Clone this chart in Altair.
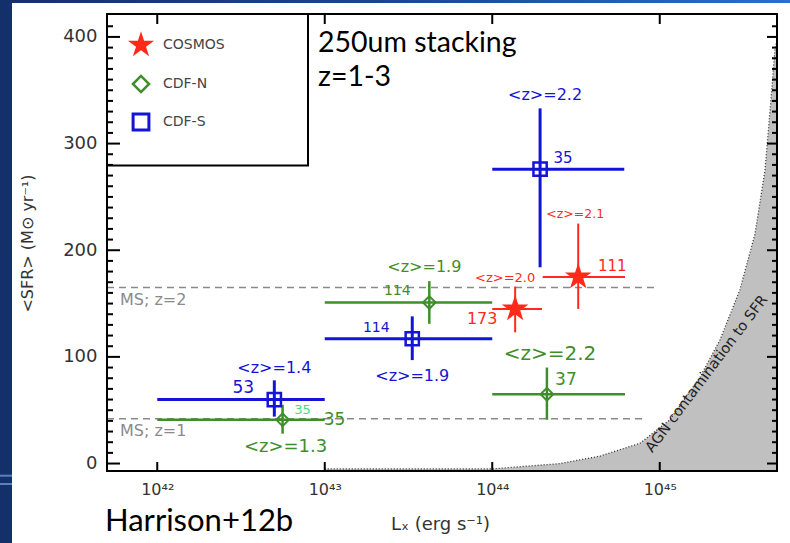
import altair as alt
import pandas as pd

# ---------------- data ----------------
SURVEYS = ["COSMOS", "CDF-N", "CDF-S"]
COLORS = ["#ff2a1a", "#3f8e2b", "#1414d6"]

# COSMOS stacks (red stars)
cosmos_lx = [1.37e44, 3.26e44]
cosmos_lx_lo = [1.0e44, 2.0e44]
cosmos_lx_hi = [1.98e44, 6.2e44]
cosmos_sfr = [145, 175]
cosmos_sfr_lo = [123, 145]
cosmos_sfr_hi = [166, 225]
cosmos_z = [2.0, 2.1]
cosmos_n = [173, 111]

# CDF-N stacks (green diamonds)
cdfn_lx = [5.6e42, 4.21e43, 2.12e44]
cdfn_lx_lo = [1e42, 1e43, 1e44]
cdfn_lx_hi = [1e43, 1e44, 6.2e44]
cdfn_sfr = [41, 151, 65]
cdfn_sfr_lo = [28, 131, 41]
cdfn_sfr_hi = [55, 171, 90]
cdfn_z = [1.3, 1.9, 2.2]
cdfn_n = [35, 114, 37]

# CDF-S stacks (blue squares)
cdfs_lx = [5.0e42, 3.33e43, 1.93e44]
cdfs_lx_lo = [1e42, 1e43, 1e44]
cdfs_lx_hi = [1e43, 1e44, 6.14e44]
cdfs_sfr = [60, 117, 276]
cdfs_sfr_lo = [44, 97, 184]
cdfs_sfr_hi = [78, 138, 333]
cdfs_z = [1.4, 1.9, 2.2]
cdfs_n = [53, 114, 35]

# main-sequence levels
ms_sfr = [165, 42]
ms_label = ["MS; z=2", "MS; z=1"]
ms_lx_end = [9.5e44, 8.1e44]

# boundary of the AGN-contaminated region
agn_lx = [1e43, 1.01e44, 2.54e44, 4.4e44, 7.62e44, 1.15e45, 1.74e45, 2.29e45,
          3.01e45, 3.7e45, 4.25e45, 4.61e45, 4.87e45, 5.01e45]
agn_sfr = [-5, -5, 0, 7, 19, 41, 81, 116, 163, 215, 275, 341, 388, 397]

# ---------------- layout ----------------
W, H = 670, 457
PAD = {"left": 107, "top": 14, "right": 13, "bottom": 72}
XMIN, XMAX = 10 ** 41.7, 10 ** 45.7
YMIN, YMAX = -7, 421.5
DEC_PX = W / 4.0
Y_PX = H / (YMAX - YMIN)
FONT = "DejaVu Sans"

# five-pointed star as a unit SVG path
STAR = ("M0,-1L0.2245,-0.309L0.9511,-0.309L0.3633,0.118L0.5878,0.809L0,0.382"
        "L-0.5878,0.809L-0.3633,0.118L-0.9511,-0.309L-0.2245,-0.309Z")

X_SCALE = alt.Scale(type="log", domain=[XMIN, XMAX], nice=False)
Y_SCALE = alt.Scale(domain=[YMIN, YMAX], nice=False, zero=False)

X_AXIS = alt.Axis(
    values=[1e42, 1e43, 1e44, 1e45],
    labelExpr=("round(log(datum.value)/LN10) == 42 ? '10⁴²' : "
               "round(log(datum.value)/LN10) == 43 ? '10⁴³' : "
               "round(log(datum.value)/LN10) == 44 ? '10⁴⁴' : '10⁴⁵'"),
    title="Lₓ (erg s⁻¹)", ticks=False, domain=False, grid=False, zindex=1,
    labelPadding=10, labelFontSize=16, labelColor="#333", labelFont=FONT,
    labelOverlap=False, labelFlush=False,
    titleX=W / 2 - 2, titleY=53, titleFontSize=18, titleFontWeight="normal",
    titleColor="#333", titleFont=FONT, titleBaseline="middle", titleAlign="center",
)
Y_AXIS = alt.Axis(
    values=[0, 100, 200, 300, 400], ticks=False, domain=False, grid=False, zindex=1,
    labelPadding=10, labelFontSize=18, labelColor="#333", labelFont=FONT,
    labelOverlap=False,
    title="<SFR> (M⊙ yr⁻¹)", titleX=-80, titleY=229, titleAngle=270,
    titleFontSize=16, titleFontWeight="normal", titleColor="#333",
    titleFont=FONT, titleBaseline="middle", titleAlign="center",
)

one = pd.DataFrame({"a": [0]})


def X(field):
    return alt.X(field, type="quantitative", scale=X_SCALE, axis=X_AXIS)


def Y(field):
    return alt.Y(field, type="quantitative", scale=Y_SCALE, axis=Y_AXIS)


# ---------------- tables ----------------
def survey_frame(name, lx, lo, hi, sfr, slo, shi, z, n):
    return pd.DataFrame({"survey": name, "lx": lx, "lx_lo": lo, "lx_hi": hi,
                         "sfr": sfr, "sfr_lo": slo, "sfr_hi": shi, "z": z, "n": n})


frames = {
    "COSMOS": survey_frame("COSMOS", cosmos_lx, cosmos_lx_lo, cosmos_lx_hi,
                           cosmos_sfr, cosmos_sfr_lo, cosmos_sfr_hi, cosmos_z, cosmos_n),
    "CDF-N": survey_frame("CDF-N", cdfn_lx, cdfn_lx_lo, cdfn_lx_hi,
                          cdfn_sfr, cdfn_sfr_lo, cdfn_sfr_hi, cdfn_z, cdfn_n),
    "CDF-S": survey_frame("CDF-S", cdfs_lx, cdfs_lx_lo, cdfs_lx_hi,
                          cdfs_sfr, cdfs_sfr_lo, cdfs_sfr_hi, cdfs_z, cdfs_n),
}
points = pd.concat(frames.values(), ignore_index=True)
color_of = dict(zip(SURVEYS, COLORS))

ms_df = pd.DataFrame({"start": XMIN, "end": ms_lx_end, "sfr": ms_sfr, "label": ms_label})
agn_df = pd.DataFrame({"lx": agn_lx, "sfr": agn_sfr})

# labels next to each stack: (survey, index, kind, dx, dy, font size, colour)
LABEL_SPEC = [
    ("CDF-S", 0, "z", 0, -32, 16, None), ("CDF-S", 0, "n", -31, -12, 17, None),
    ("CDF-S", 1, "z", 0, 37, 16, None), ("CDF-S", 1, "n", -36, -11, 14, None),
    ("CDF-S", 2, "z", 5, -74, 16, None), ("CDF-S", 2, "n", 23, -11, 15, None),
    ("CDF-N", 0, "z", 3, 27, 18, None), ("CDF-N", 0, "n", 52, 0, 17, None),
    ("CDF-N", 0, "n", 20, -10, 13, "#3fe07c"),
    ("CDF-N", 1, "z", -5, -35, 16, None), ("CDF-N", 1, "n", -32, -11, 14, None),
    ("CDF-N", 2, "z", 3, -40, 20, None), ("CDF-N", 2, "n", 19, -14, 17, None),
    ("COSMOS", 0, "z", -10, -31, 13, None), ("COSMOS", 0, "n", -33, 10, 16, None),
    ("COSMOS", 1, "z", -3, -63, 12.5, None), ("COSMOS", 1, "n", 34, -11, 15, None),
]
rows = []
for survey, i, kind, dx, dy, fs, col in LABEL_SPEC:
    r = frames[survey].iloc[i]
    text = f"<z>={r['z']:.1f}" if kind == "z" else str(int(r["n"]))
    rows.append({"lx": r["lx"] * 10 ** (dx / DEC_PX), "sfr": r["sfr"] - dy / Y_PX,
                 "text": text, "fs": fs, "col": col or color_of[survey]})
labels_df = pd.DataFrame(rows)

# ---------------- layers ----------------
layers = []

# slide background: blue gradient with a white panel
layers.append(alt.Chart(one).mark_rect(
    fill=alt.LinearGradient(gradient="linear", x1=0, x2=1, y1=0, y2=0, stops=[
        alt.GradientStop(color="#13306a", offset=0),
        alt.GradientStop(color="#1c4690", offset=0.5),
        alt.GradientStop(color="#2c6cd4", offset=1)])
).encode(x=alt.value(-PAD["left"]), x2=alt.value(W + PAD["right"]),
         y=alt.value(-PAD["top"]), y2=alt.value(H + PAD["bottom"])))
layers.append(alt.Chart(one).mark_rect(fill="white").encode(
    x=alt.value(12 - PAD["left"]), x2=alt.value(W + PAD["right"]),
    y=alt.value(3 - PAD["top"]), y2=alt.value(H + PAD["bottom"])))
for yy in (475.7, 484.0):
    layers.append(alt.Chart(one).mark_rule(color="#5a7fc2", strokeWidth=2).encode(
        x=alt.value(-PAD["left"]), x2=alt.value(12 - PAD["left"]),
        y=alt.value(yy - PAD["top"])))

# AGN-contaminated region
layers.append(alt.Chart(agn_df).mark_area(color="#c0c0c0", clip=True).encode(
    x=X("lx"), y=Y("sfr"), y2=alt.datum(YMIN)))
layers.append(alt.Chart(agn_df).mark_line(color="#333", strokeDash=[1, 2],
                                          strokeWidth=1.3, clip=True).encode(
    x=X("lx"), y=Y("sfr")))
layers.append(alt.Chart(one).mark_text(
    text="AGN contamination to SFR", angle=307, font=FONT, fontSize=14.5,
    color="#222", align="center", baseline="middle"
).encode(x=alt.value(707 - PAD["left"]), y=alt.value(374 - PAD["top"])))

# main-sequence lines
layers.append(alt.Chart(ms_df).mark_rule(color="#8a8a8a", strokeDash=[7, 5],
                                         strokeWidth=1.6).encode(
    x=X("start"), x2="end", y=Y("sfr")))
layers.append(alt.Chart(ms_df).mark_text(
    align="left", baseline="middle", dx=13, dy=12, font=FONT, fontSize=16, color="#8a8a8a"
).encode(x=alt.value(0), y=Y("sfr"), text="label:N"))

# error bars
cscale = alt.Scale(domain=SURVEYS, range=COLORS)
wscale = alt.Scale(domain=SURVEYS, range=[2, 3, 3])
layers.append(alt.Chart(points).mark_rule().encode(
    x=X("lx_lo"), x2="lx_hi", y=Y("sfr"),
    color=alt.Color("survey:N", scale=cscale, legend=None),
    strokeWidth=alt.StrokeWidth("survey:N", scale=wscale, legend=None)))
layers.append(alt.Chart(points).mark_rule().encode(
    x=X("lx"), y=Y("sfr_lo"), y2="sfr_hi",
    color=alt.Color("survey:N", scale=cscale, legend=None),
    strokeWidth=alt.StrokeWidth("survey:N", scale=wscale, legend=None)))

# markers
layers.append(alt.Chart(frames["COSMOS"]).mark_point(
    shape=STAR, filled=True, size=780, color=color_of["COSMOS"], opacity=1
).encode(x=X("lx"), y=Y("sfr")))
layers.append(alt.Chart(frames["CDF-N"]).mark_point(
    shape="diamond", filled=False, size=160, strokeWidth=2,
    color=color_of["CDF-N"], opacity=1
).encode(x=X("lx"), y=Y("sfr")))
layers.append(alt.Chart(frames["CDF-S"]).mark_point(
    shape="square", filled=False, size=175, strokeWidth=2.5,
    color=color_of["CDF-S"], opacity=1
).encode(x=X("lx"), y=Y("sfr")))

# labels beside the stacks
layers.append(alt.Chart(labels_df).mark_text(
    font=FONT, align="center", baseline="middle"
).encode(x=X("lx"), y=Y("sfr"), text="text:N",
         size=alt.Size("fs:Q", scale=None, legend=None),
         color=alt.Color("col:N", scale=None, legend=None)))

# ticks pointing into the frame
y_major = pd.DataFrame({"v": [0, 100, 200, 300, 400]})
y_minor = pd.DataFrame({"v": [v for v in range(10, 420, 10) if v % 100]})
x_major = pd.DataFrame({"v": [1e42, 1e43, 1e44, 1e45]})
for df, x0, x1 in ((y_major, 0, 13), (y_minor, 0, 6), (y_major, W - 10, W), (y_minor, W - 5, W)):
    layers.append(alt.Chart(df).mark_rule(color="black", strokeWidth=2).encode(
        y=Y("v"), x=alt.value(x0), x2=alt.value(x1)))
for y0, y1 in ((H - 9, H), (0, 10)):
    layers.append(alt.Chart(x_major).mark_rule(color="black", strokeWidth=2).encode(
        x=X("v"), y=alt.value(y0), y2=alt.value(y1)))

# plot frame
layers.append(alt.Chart(one).mark_rect(filled=False, stroke="black", strokeWidth=2).encode(
    x=alt.value(0), x2=alt.value(W), y=alt.value(0), y2=alt.value(H)))

# legend box
layers.append(alt.Chart(one).mark_rect(filled=False, stroke="black", strokeWidth=2).encode(
    x=alt.value(0), x2=alt.value(201), y=alt.value(0), y2=alt.value(151.5)))
legend_marks = [
    ("COSMOS", dict(shape=STAR, filled=True, size=760)),
    ("CDF-N", dict(shape="diamond", filled=False, size=260, strokeWidth=2.5)),
    ("CDF-S", dict(shape="square", filled=False, size=250, strokeWidth=3)),
]
for k, (name, props) in enumerate(legend_marks):
    yy = [31, 70, 108][k]
    layers.append(alt.Chart(one).mark_point(color=color_of[name], opacity=1, **props).encode(
        x=alt.value(34), y=alt.value(yy)))
    layers.append(alt.Chart(one).mark_text(
        text=name, font=FONT, fontSize=14, color="#444", align="left", baseline="middle"
    ).encode(x=alt.value(56), y=alt.value(yy)))

# headline: two-line stacking note and the citation
layers.append(alt.Chart(one).mark_text(
    text=["250um stacking", "z=1-3"], font="Lato", fontSize=28.5, lineHeight=34.5,
    color="black", align="left", baseline="alphabetic"
).encode(x=alt.value(211), y=alt.value(37.5)))
layers.append(alt.Chart(one).mark_text(
    text="Harrison+12b", font="Lato", fontSize=31, color="black",
    align="left", baseline="alphabetic"
).encode(x=alt.value(-2), y=alt.value(517)))

chart = alt.layer(*layers).properties(
    width=W, height=H, padding=PAD, autosize=alt.AutoSizeParams(type="none")
).configure_view(stroke=None)

chart.save("out.html", embed_options={"renderer": "svg", "actions": False})
